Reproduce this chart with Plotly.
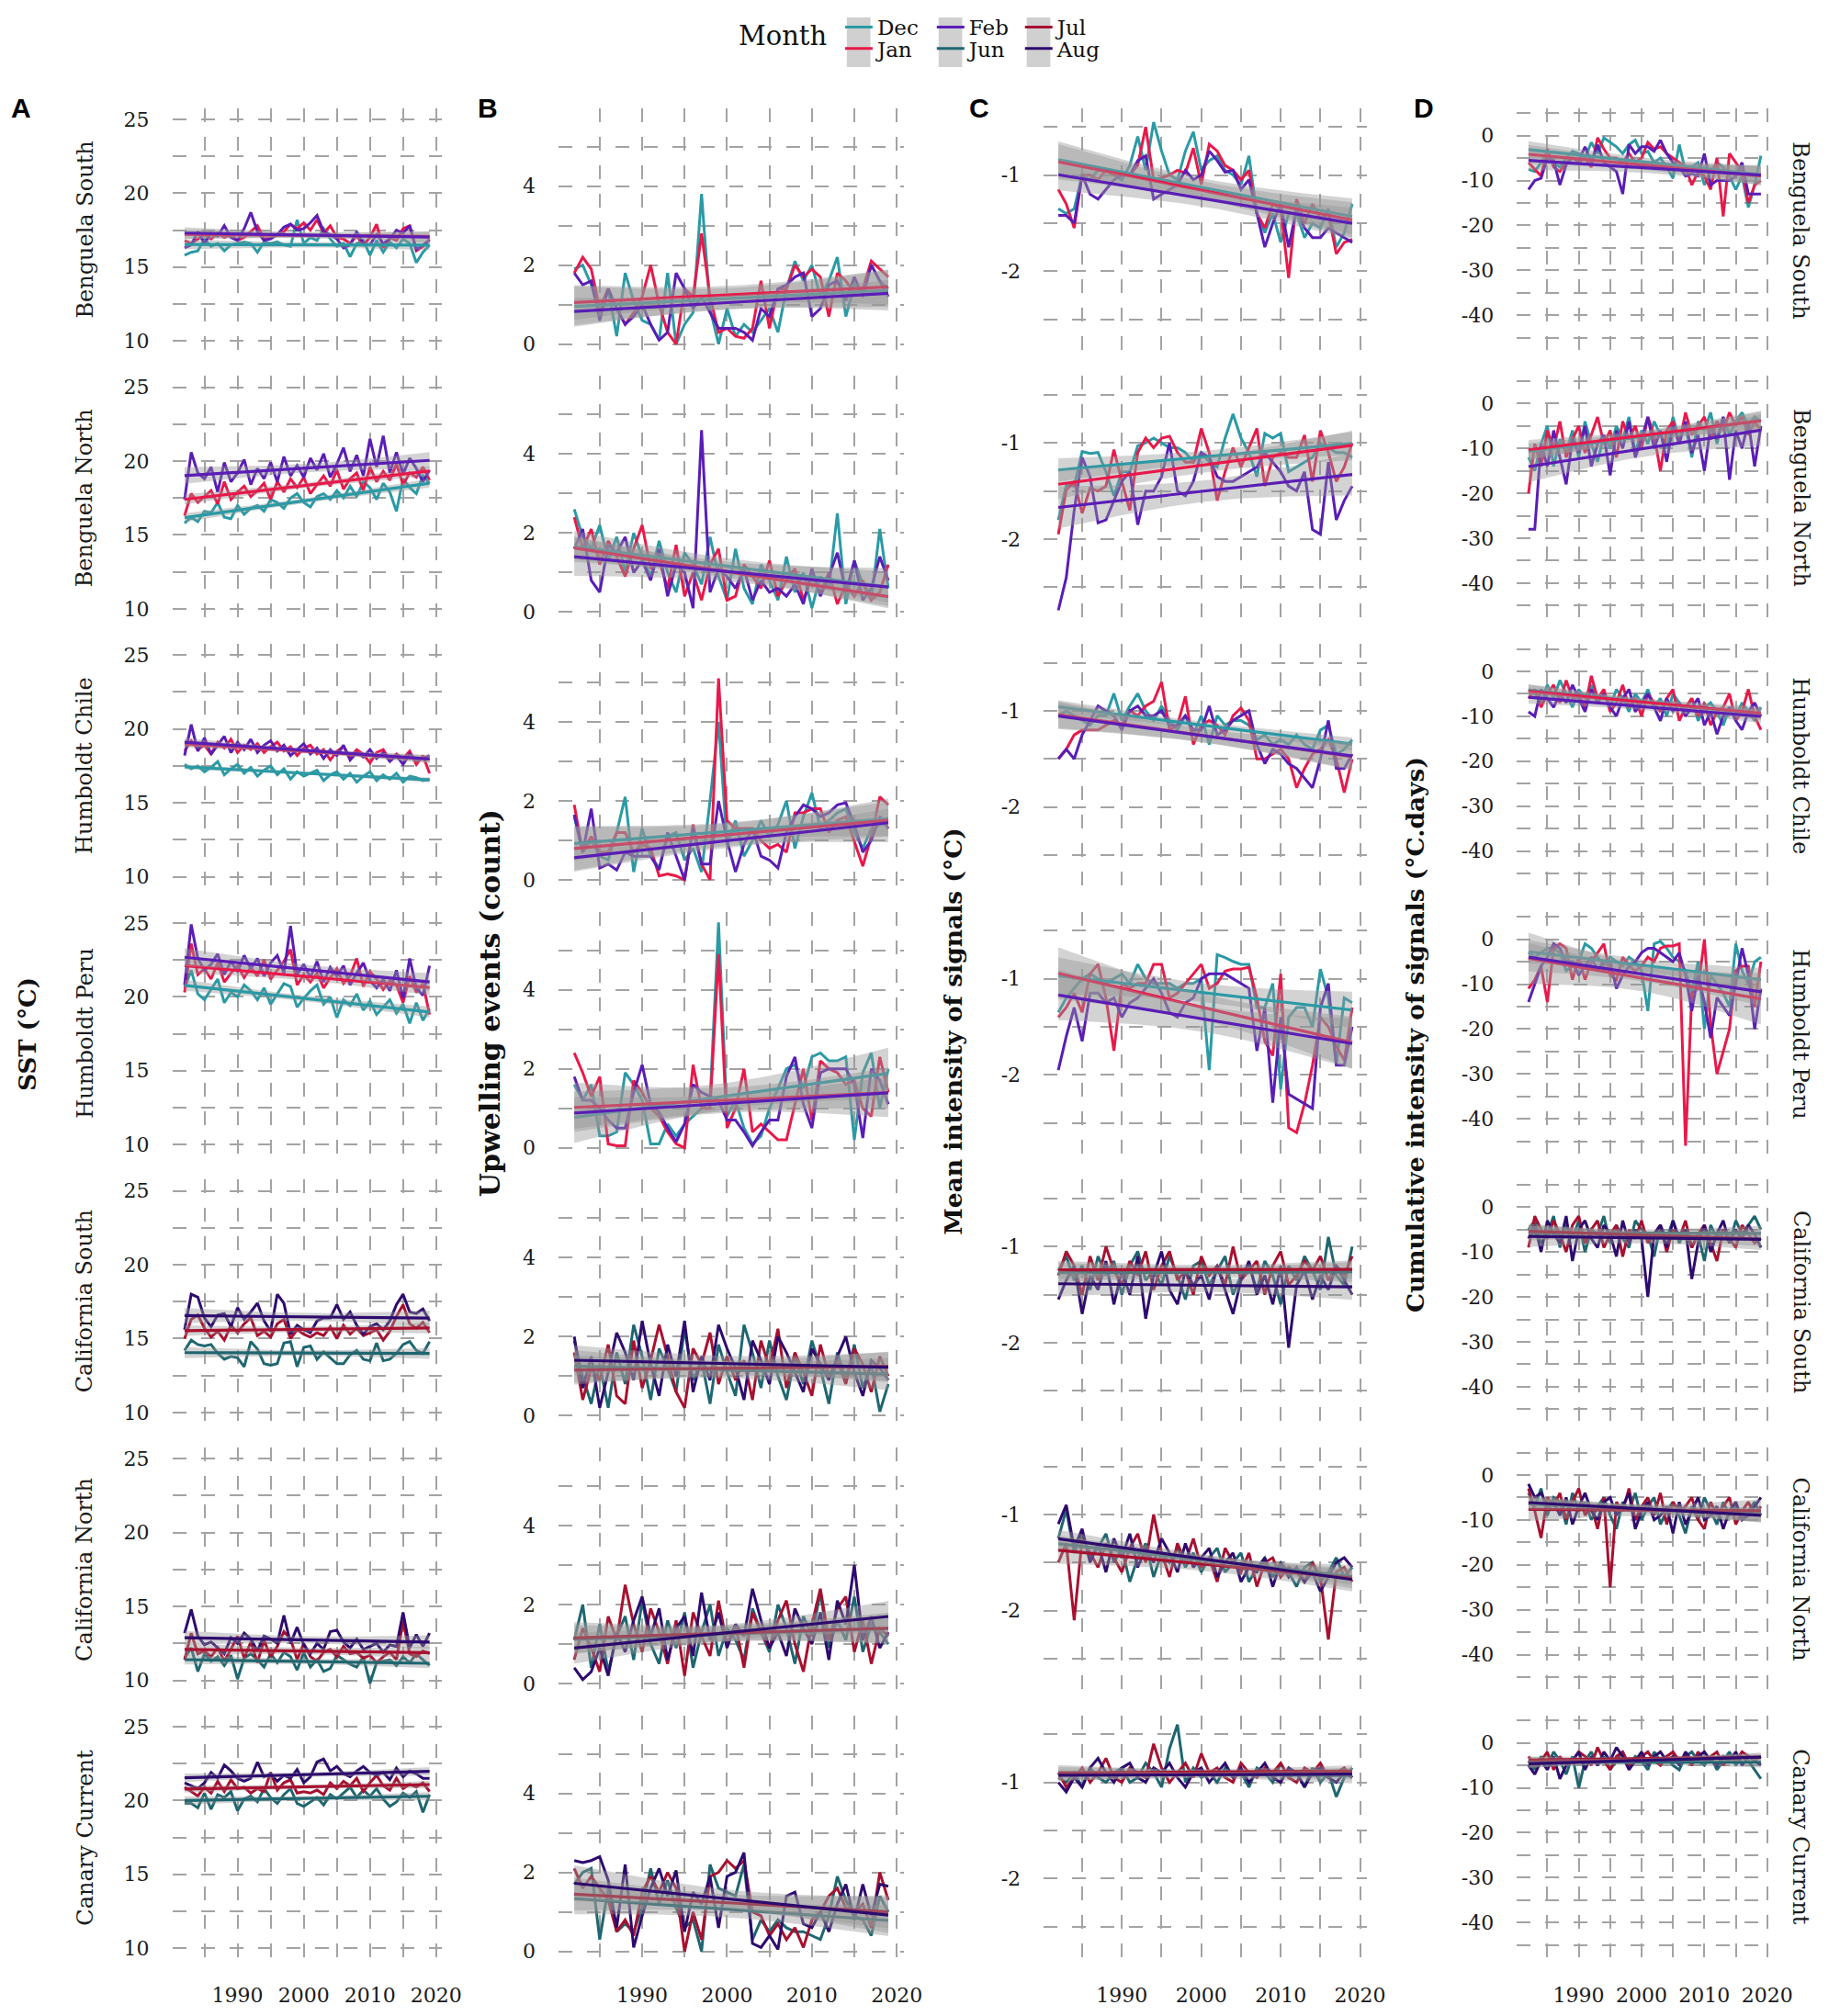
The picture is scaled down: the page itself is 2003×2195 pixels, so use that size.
import numpy as np
import plotly.graph_objects as go
from plotly.subplots import make_subplots

YEAR0 = 1982

regions = ["Benguela South", "Benguela North", "Humboldt Chile", "Humboldt Peru",
           "California South", "California North", "Canary Current"]
south_months = ["Dec", "Jan", "Feb"]
north_months = ["Jun", "Jul", "Aug"]

month_colors = {
    "Dec": "#2A9AA5", "Jan": "#E8194A", "Feb": "#5A1DB5",
    "Jun": "#1E6670", "Jul": "#A8102F", "Aug": "#2D0B6E",
}

# ---------------- SST (°C), 1982-2019 ----------------
sst_bs_dec = [15.8,16.0,16.1,16.9,16.4,16.6,16.1,16.5,16.6,16.7, 16.6,16.0,16.7,16.6,16.7,16.5,16.4,18.2,16.6,17.0, 16.8,17.6,16.9,16.4,16.6,15.7,16.6,16.8,15.8,16.8, 16.0,16.7,16.3,16.9,16.6,15.3,16.0,16.5]
sst_bs_jan = [16.8,16.6,16.9,17.2,16.9,17.3,17.0,17.2,16.8,17.0, 17.4,17.8,16.9,17.0,17.2,17.4,17.9,17.6,18.0,17.5, 18.2,17.3,17.8,17.0,16.9,16.6,17.1,16.5,17.0,17.9, 16.3,17.0,16.8,17.6,17.8,16.1,16.4,16.9]
sst_bs_feb = [16.3,16.5,17.4,16.6,17.3,17.1,17.8,17.0,16.8,17.6, 18.7,17.4,16.8,16.9,17.2,17.7,17.9,17.5,17.6,18.0, 18.5,17.4,17.2,16.9,16.3,16.5,17.4,16.6,16.5,17.2, 16.6,16.9,17.5,17.3,17.8,16.2,16.5,16.8]

sst_bn_dec = [15.8,16.2,15.9,16.6,16.5,17.2,16.2,16.1,17.0,16.4, 16.8,17.0,16.6,17.4,17.2,16.8,17.5,17.8,17.2,16.9, 17.6,17.8,17.4,18.0,17.5,18.3,17.6,18.6,18.2,17.4, 18.5,17.9,16.6,18.8,18.2,17.8,19.0,18.5]
sst_bn_jan = [16.3,17.8,17.2,17.6,18.0,17.1,18.6,17.4,17.9,18.3, 17.6,18.0,18.5,17.4,18.6,17.9,18.8,18.2,18.9,17.8, 18.4,19.0,18.3,19.4,18.1,18.8,19.2,18.0,19.6,18.6, 19.3,18.7,19.8,18.4,19.2,18.9,19.6,18.7]
sst_bn_feb = [17.4,20.6,19.2,18.8,19.6,17.9,19.9,18.6,19.2,20.1, 18.4,19.5,18.8,19.9,18.6,20.3,19.0,19.7,18.9,20.2, 19.4,20.5,18.9,19.8,20.9,19.3,20.4,19.0,21.5,19.6, 21.7,19.2,20.6,19.1,20.2,19.5,18.6,19.4]

sst_hc_dec = [17.6,17.3,17.5,17.1,17.4,17.8,16.9,17.3,17.6,17.0, 17.4,16.8,17.2,17.5,16.9,17.3,16.6,17.1,16.8,17.0, 17.2,16.5,16.9,17.1,16.6,17.0,16.4,16.8,17.1,16.5, 16.9,16.6,17.0,16.4,16.8,16.7,16.5,16.6]
sst_hc_jan = [18.5,19.2,18.6,18.9,18.3,19.1,18.7,19.3,18.4,18.9, 18.6,19.0,18.4,18.8,19.1,18.5,18.8,18.2,18.7,18.9, 18.3,18.6,17.9,18.5,18.8,18.1,18.6,18.3,17.7,18.4, 18.6,17.9,18.3,18.0,18.5,17.6,18.2,17.0]
sst_hc_feb = [18.2,20.3,18.5,19.4,18.3,18.9,19.5,18.4,19.1,18.6, 19.3,18.4,18.9,19.2,18.5,18.9,18.2,18.6,19.0,18.3, 18.7,18.0,18.6,18.2,18.9,17.9,18.4,18.1,18.6,18.0, 18.4,17.8,18.2,17.6,18.3,17.9,18.0,18.2]

sst_hp_dec = [20.6,21.8,20.2,19.8,20.5,21.2,19.6,20.3,20.0,20.8, 20.4,19.8,20.6,19.5,20.2,20.9,20.7,19.3,19.9,20.4, 20.8,19.5,20.0,18.6,19.8,19.4,20.2,19.1,19.7,18.8, 19.3,19.8,18.9,19.5,18.2,19.6,18.4,19.2]
sst_hp_jan = [20.3,23.6,21.5,21.9,21.2,22.3,21.0,21.6,22.1,21.3, 22.0,21.4,22.5,21.2,21.8,22.4,23.2,20.8,21.5,21.0, 21.6,20.6,21.3,21.9,20.9,21.4,22.6,20.7,21.7,21.2, 20.5,21.1,20.8,19.6,21.4,20.3,20.9,18.8]
sst_hp_feb = [20.8,24.9,22.6,21.8,22.2,22.9,21.5,22.4,21.7,22.8, 21.9,22.6,21.4,22.3,22.8,21.6,24.8,21.5,22.2,21.3, 22.4,21.0,22.0,21.4,22.1,20.8,21.6,22.3,21.1,20.6, 21.2,20.4,21.8,19.9,22.6,20.6,20.1,22.1]

sst_cs_jun = [14.2,14.9,14.6,14.5,14.6,14.0,13.6,13.8,13.7,13.1, 14.8,14.3,13.3,13.2,13.3,14.7,14.8,13.1,14.4,14.5, 13.6,14.1,13.7,13.3,13.3,13.9,14.2,13.6,13.5,14.7, 13.5,13.6,14.0,14.6,14.8,14.2,14.0,14.8]
sst_cs_jul = [15.0,16.3,16.6,15.7,15.1,15.5,14.9,15.9,15.4,16.0, 16.4,15.2,15.5,15.1,16.0,16.3,15.0,15.6,15.3,15.1, 15.4,15.2,15.8,15.0,15.9,15.3,15.7,15.2,15.4,15.6, 14.9,15.5,16.5,17.3,16.0,15.7,16.1,15.4]
sst_cs_aug = [15.6,18.0,17.8,16.4,15.8,16.6,16.7,15.8,17.1,16.3, 16.8,17.4,16.2,15.5,18.0,17.4,15.3,15.9,15.6,15.4, 16.2,16.4,16.4,17.3,16.3,16.8,15.9,15.3,15.8,16.0, 15.6,16.2,17.3,18.0,16.8,16.7,17.0,16.2]

sst_cn_jun = [11.5,12.2,10.6,11.8,11.3,11.6,11.0,11.7,10.1,11.5, 11.8,11.4,10.9,11.8,11.2,11.9,11.6,10.7,11.9,10.9, 11.4,10.6,10.8,11.7,11.4,11.1,10.9,11.6,9.8,11.2, 11.3,11.4,11.0,11.6,11.2,11.8,11.4,11.0]
sst_cn_jul = [11.4,13.2,11.8,12.0,11.6,12.2,11.3,12.1,13.0,11.5, 12.6,11.2,12.7,11.6,12.3,13.3,12.8,11.4,12.5,11.6, 11.3,11.9,12.1,11.6,12.3,11.8,11.9,11.5,11.7,11.2, 11.6,11.9,11.4,14.0,11.8,11.6,12.0,11.8]
sst_cn_aug = [13.2,14.8,13.0,12.4,12.6,12.2,11.8,12.9,12.5,13.2, 12.8,12.0,13.0,12.8,12.5,14.4,12.5,13.6,12.4,11.8, 12.5,12.1,13.3,13.4,12.6,12.2,12.8,12.1,12.3,12.5, 11.9,12.4,12.3,14.6,12.2,13.1,12.3,13.2]

sst_cc_jun = [19.8,19.8,19.5,20.5,19.4,20.4,20.2,20.6,19.3,20.1, 20.3,19.9,20.8,20.2,19.8,20.4,20.8,19.8,19.6,19.9, 20.2,19.7,20.4,20.1,20.5,20.9,20.2,20.7,20.3,20.8, 20.1,19.6,19.9,20.5,20.2,20.6,19.2,20.4]
sst_cc_jul = [20.9,20.6,20.3,20.9,20.5,21.3,20.6,21.4,20.8,20.9, 20.5,20.8,20.6,21.9,20.7,21.2,21.4,20.5,20.6,20.5, 20.7,20.4,21.2,20.8,21.3,21.0,21.5,20.6,21.2,21.7, 21.0,20.7,21.5,20.8,21.1,20.9,21.2,20.6]
sst_cc_aug = [21.2,21.0,20.8,21.2,21.9,21.5,22.4,22.0,21.5,21.3, 21.5,22.6,21.6,21.8,21.3,21.7,21.5,22.1,21.2,21.6, 22.6,22.8,22.0,22.3,21.8,21.6,22.0,22.3,21.9,21.7, 21.9,21.4,22.2,21.6,22.0,21.8,21.5,21.5]

# ---------------- Upwelling events (count) ----------------
up_bs_dec = [1.9,2.0,1.5,0.8,1.4,0.2,1.8,1.1,0.6,0.5, 0.1,1.8,0.0,0.5,0.8,3.8,0.9,0.0,0.9,0.2, 0.5,0.3,0.6,0.9,0.3,1.4,2.1,1.6,2.0,1.2, 1.6,2.2,0.7,1.5,1.3,2.0,1.6,1.4]
up_bs_jan = [1.8,2.2,1.9,0.9,1.4,0.9,0.5,0.8,1.2,2.0, 1.0,0.3,0.0,1.4,1.2,2.8,1.2,0.3,0.4,0.2, 0.15,0.4,1.6,0.4,1.4,1.4,2.0,1.7,1.9,1.7, 0.7,1.8,1.6,1.3,1.4,2.1,1.9,1.7]
up_bs_feb = [1.8,1.5,1.6,0.6,1.4,0.9,0.5,0.7,1.0,0.5, 0.1,0.3,1.8,1.4,0.9,1.2,0.8,0.4,0.4,0.4, 0.3,0.1,0.9,0.7,1.4,1.5,1.7,1.8,0.7,0.9, 1.5,1.6,1.1,1.7,1.2,2.0,1.6,1.2]

up_bn_dec = [2.6,1.9,1.6,2.2,1.3,1.9,1.0,2.0,1.4,0.9, 1.8,1.0,0.5,1.5,1.2,0.7,1.9,0.9,0.3,1.6, 0.6,0.2,1.2,0.8,0.3,1.4,0.5,1.0,0.1,0.9, 0.6,2.5,0.2,1.3,0.7,0.3,2.1,0.6]
up_bn_jan = [2.4,1.6,2.1,1.2,1.8,1.4,0.9,1.6,2.2,1.1, 1.3,0.6,1.7,0.4,1.0,0.3,1.2,1.6,0.3,0.4, 1.2,0.9,0.6,1.3,0.4,0.8,1.1,0.3,0.9,0.5, 1.0,0.2,0.7,0.4,0.8,0.3,0.5,1.2]
up_bn_feb = [1.6,2.1,0.8,0.5,1.7,1.5,1.9,1.0,1.3,0.8, 1.6,0.4,1.2,1.0,0.1,4.6,0.5,1.1,0.9,0.6, 1.1,0.3,0.8,0.5,0.6,0.4,0.7,0.2,1.1,0.4, 0.9,1.5,0.5,1.3,0.3,0.6,1.4,0.8]

up_hc_dec = [1.6,0.7,1.0,0.6,0.5,1.2,2.1,0.2,1.3,0.6, 0.3,1.1,1.2,0.5,0.8,0.2,2.0,4.0,0.9,1.5, 0.6,1.0,1.5,1.1,1.4,2.0,0.8,1.6,2.2,1.3, 1.5,1.7,1.8,1.2,0.8,1.3,1.4,1.4]
up_hc_jan = [1.9,0.7,1.1,0.7,0.7,1.2,1.2,0.7,0.9,0.8, 0.1,0.15,0.1,0.0,1.4,0.4,0.0,5.1,1.5,1.3, 1.3,1.3,1.0,0.8,0.9,0.7,1.7,1.7,1.8,1.8, 1.2,1.5,1.6,1.0,0.35,1.1,2.1,1.9]
up_hc_feb = [1.65,0.7,1.8,0.3,0.4,0.25,0.7,0.6,0.6,0.6, 0.25,1.2,0.6,0.0,1.3,0.4,0.4,2.0,1.0,0.2, 0.9,1.3,0.6,0.5,0.3,1.2,1.6,1.9,1.8,1.6, 1.7,1.9,1.95,1.4,0.7,1.0,1.6,1.3]

up_hp_dec = [1.6,1.2,1.6,0.3,0.3,0.4,1.9,1.6,1.2,0.1, 0.1,0.6,0.3,0.6,0.8,1.0,1.2,5.7,0.8,1.2, 0.5,0.1,0.3,1.0,1.5,2.0,2.1,1.5,2.3,2.4, 2.2,2.2,2.3,0.2,1.9,2.4,1.0,2.0]
up_hp_jan = [2.4,1.9,1.3,1.8,0.1,0.05,0.05,1.7,1.4,1.0, 0.8,0.4,0.1,0.0,2.1,1.0,1.0,4.9,0.5,1.0, 2.0,0.4,0.6,0.4,0.2,0.2,1.1,2.0,0.7,2.2, 2.0,1.9,1.6,1.7,1.0,0.8,2.3,1.4]
up_hp_feb = [1.8,1.2,1.2,1.0,0.7,0.5,0.5,1.4,2.1,1.1, 0.9,0.5,0.15,0.6,1.6,1.4,1.3,1.2,0.7,0.7, 0.4,0.05,0.4,0.7,0.7,1.8,2.3,1.1,0.5,1.9, 2.0,2.0,2.0,1.6,0.25,2.0,1.7,1.1]

up_cs_jun = [1.9,1.0,0.3,1.3,0.2,1.6,0.8,2.3,1.5,0.4, 1.7,1.2,0.6,2.2,0.9,1.4,0.3,1.8,1.1,0.5, 2.3,1.6,0.7,1.9,1.0,0.4,1.5,0.8,1.9,1.2, 0.3,1.6,0.9,1.8,0.7,1.3,0.1,0.8]
up_cs_jul = [1.6,0.4,1.2,0.9,1.8,0.5,0.3,1.9,0.7,1.4, 2.3,1.5,0.6,0.2,1.7,1.3,2.1,0.8,1.5,0.9, 1.4,0.4,1.9,1.2,2.2,0.7,1.6,1.1,0.5,1.8, 1.0,1.4,0.8,1.7,1.3,0.6,1.5,1.0]
up_cs_aug = [2.0,0.7,1.5,0.2,1.1,2.1,1.6,0.9,2.4,1.3, 0.5,1.8,1.0,2.4,0.6,1.5,0.9,2.3,1.7,1.2, 0.4,1.9,1.4,0.8,2.0,1.6,1.1,0.6,1.7,1.3, 0.9,1.5,2.0,1.1,0.5,1.4,1.2,0.9]

up_cn_jun = [1.1,2.0,0.4,1.5,0.3,1.2,1.7,0.6,2.1,1.0, 0.5,1.6,0.9,1.8,0.4,1.3,2.0,0.7,1.4,1.1, 0.6,1.9,1.3,0.8,2.0,1.4,0.5,1.7,1.2,2.3, 0.9,1.6,1.1,2.2,0.8,1.5,1.3,1.0]
up_cn_jul = [0.6,1.4,0.9,0.3,1.7,1.1,2.5,1.5,0.8,1.9, 1.3,0.5,1.6,0.2,1.8,1.2,0.7,2.1,1.0,1.5, 0.4,1.8,1.3,0.9,1.6,2.1,1.0,0.3,1.5,2.4, 1.1,1.9,2.2,0.8,1.6,0.5,1.4,1.2]
up_cn_aug = [0.4,0.1,0.3,0.9,0.2,1.3,0.8,1.6,2.2,1.2, 1.9,0.6,1.4,1.7,0.7,2.3,1.1,1.8,0.9,1.5, 1.2,2.4,1.6,0.9,1.3,0.7,1.9,1.4,1.0,1.8, 0.6,2.1,1.5,3.0,1.1,1.7,0.9,1.3]

up_cc_jun = [1.7,2.0,2.1,0.3,1.6,0.5,0.7,0.5,1.1,2.1, 1.2,1.8,1.1,0.6,0.8,0.0,2.2,1.6,1.5,1.4, 2.2,0.3,0.8,0.5,0.8,0.6,0.5,0.5,0.4,0.3, 0.9,1.9,1.3,0.9,0.8,0.4,1.4,1.0]
up_cc_jul = [2.1,1.6,1.9,1.6,1.3,0.5,0.8,0.4,1.5,1.9, 1.5,2.0,1.6,0.0,1.0,0.3,1.9,2.0,2.3,2.1, 2.3,1.0,0.9,0.4,0.7,0.3,0.6,0.1,0.8,1.0, 1.4,1.6,1.1,1.0,1.2,0.6,2.0,1.3]
up_cc_aug = [2.3,2.25,2.3,2.4,1.8,0.6,2.2,0.1,0.9,1.6, 2.1,1.4,2.05,0.5,1.5,1.2,1.9,0.6,1.9,2.0, 2.5,0.2,0.1,0.4,0.05,1.4,1.5,0.7,0.6,1.0, 0.5,1.2,1.7,0.8,1.7,0.9,1.7,1.65]

# ---------------- Mean intensity of signals (°C) ----------------
mi_bs_dec = [-1.35,-1.4,-1.35,-1.0,-1.05,-0.95,-0.95,-1.0,-1.05,-0.9, -0.6,-0.95,-0.45,-0.75,-1.0,-1.05,-0.75,-0.55,-0.95,-0.85, -0.8,-0.95,-1.0,-1.1,-0.8,-1.4,-1.6,-1.4,-1.7,-1.4, -1.4,-1.65,-1.5,-1.55,-1.35,-1.75,-1.6,-1.3]
mi_bs_jan = [-1.15,-1.3,-1.55,-1.0,-1.0,-1.05,-0.95,-1.0,-1.0,-1.0, -0.9,-0.5,-1.05,-1.03,-1.0,-0.95,-0.98,-0.72,-1.1,-0.68, -0.75,-0.9,-0.95,-1.05,-0.95,-1.4,-1.55,-1.3,-1.35,-2.07, -1.25,-1.5,-1.3,-1.45,-1.4,-1.82,-1.7,-1.67]
mi_bs_feb = [-1.42,-1.42,-1.5,-1.0,-1.2,-1.25,-1.15,-1.05,-1.0,-1.0, -0.85,-0.8,-1.25,-1.2,-1.15,-1.1,-0.95,-1.05,-1.0,-0.75, -0.85,-0.97,-0.95,-1.15,-1.05,-1.4,-1.75,-1.5,-1.3,-1.75, -1.35,-1.55,-1.65,-1.65,-1.55,-1.6,-1.65,-1.7]

mi_bn_dec = [-1.8,-1.44,-1.45,-1.09,-1.11,-1.1,-1.3,-1.55,-1.3,-1.3, -1.03,-1.0,-0.95,-1.0,-1.05,-1.05,-1.1,-1.2,-1.1,-1.2, -1.25,-0.95,-0.7,-0.95,-1.1,-1.35,-0.9,-0.95,-0.9,-1.3, -1.25,-1.2,-1.15,-1.0,-1.05,-1.1,-1.1,-1.15]
mi_bn_jan = [-1.95,-1.49,-1.4,-1.73,-1.47,-1.5,-1.45,-1.07,-1.4,-1.7, -1.1,-0.95,-1.05,-0.95,-0.93,-1.1,-1.2,-1.2,-0.85,-1.1, -1.6,-1.3,-1.05,-1.25,-1.05,-0.85,-1.45,-1.15,-1.1,-1.15, -1.15,-0.92,-1.4,-0.87,-1.1,-1.4,-1.25,-1.0]
mi_bn_feb = [-2.74,-2.4,-1.7,-1.15,-1.35,-1.83,-1.8,-1.6,-1.4,-1.3, -1.85,-1.5,-1.5,-1.35,-1.0,-1.5,-1.55,-1.4,-1.1,-1.15, -1.35,-1.4,-1.4,-1.35,-1.3,-1.25,-1.1,-1.2,-1.3,-1.45, -1.5,-1.3,-1.9,-1.95,-1.2,-1.8,-1.6,-1.45]

mi_hc_dec = [-1.05,-1.0,-1.05,-1.1,-1.15,-1.05,-1.05,-0.82,-1.1,-0.95, -0.82,-1.0,-1.1,-0.95,-1.1,-1.2,-1.05,-1.25,-1.05,-1.35, -1.05,-1.15,-1.1,-1.1,-1.15,-1.3,-1.25,-1.35,-1.3,-1.35, -1.25,-1.35,-1.4,-1.2,-1.15,-1.45,-1.4,-1.3]
mi_hc_jan = [-1.5,-1.4,-1.25,-1.2,-1.2,-1.2,-1.15,-1.1,-1.15,-1.0, -1.05,-0.95,-0.9,-0.7,-1.2,-1.15,-0.85,-1.35,-1.15,-1.1, -1.15,-1.25,-1.05,-0.97,-1.1,-1.5,-1.5,-1.45,-1.4,-1.5, -1.8,-1.6,-1.45,-1.4,-1.3,-1.5,-1.85,-1.5]
mi_hc_feb = [-1.5,-1.4,-1.5,-1.25,-1.1,-0.95,-1.0,-1.05,-1.2,-1.0, -0.95,-1.05,-1.05,-1.0,-1.15,-1.15,-1.05,-1.2,-1.2,-0.95, -1.25,-1.2,-1.1,-1.05,-1.0,-1.35,-1.55,-1.4,-1.45,-1.55, -1.6,-1.7,-1.8,-1.5,-1.1,-1.6,-1.6,-1.45]

mi_hp_dec = [-1.35,-1.2,-1.1,-1.0,-0.95,-1.0,-1.05,-1.0,-0.95,-1.05, -0.85,-1.0,-1.05,-1.05,-1.05,-1.1,-1.05,-1.05,-1.0,-1.95, -0.75,-0.78,-0.82,-0.85,-0.85,-1.3,-1.3,-1.05,-2.15,-1.4, -1.3,-1.3,-1.5,-0.9,-1.2,-1.9,-1.2,-1.25]
mi_hp_jan = [-1.4,-1.3,-1.15,-1.35,-0.95,-0.85,-1.2,-1.75,-1.05,-1.1, -1.05,-1.05,-0.85,-0.85,-1.2,-1.15,-1.05,-0.95,-0.85,-1.1, -1.05,-0.92,-0.9,-0.9,-0.88,-1.2,-1.65,-1.8,-0.95,-2.55, -2.6,-2.3,-1.9,-1.4,-1.5,-1.7,-1.85,-1.3]
mi_hp_feb = [-1.95,-1.6,-1.3,-1.65,-1.15,-1.15,-1.25,-1.2,-1.4,-1.25, -1.2,-1.1,-1.0,-1.15,-1.35,-1.4,-1.25,-1.2,-1.0,-0.95, -0.95,-0.95,-1.0,-1.05,-1.1,-1.75,-1.3,-2.29,-1.4,-2.2, -2.25,-2.3,-2.35,-1.3,-1.05,-1.9,-1.9,-1.5]

mi_cs_jun = [-1.25,-1.1,-1.35,-1.2,-1.45,-1.1,-1.3,-1.15,-1.5,-1.2, -1.05,-1.35,-1.25,-1.4,-1.1,-1.3,-1.55,-1.2,-1.15,-1.4, -1.25,-1.1,-1.5,-1.3,-1.2,-1.45,-1.15,-1.3,-1.6,-1.2, -1.35,-1.1,-1.25,-1.45,-0.9,-1.3,-1.4,-1.0]
mi_cs_jul = [-1.3,-1.05,-1.2,-1.5,-1.1,-1.35,-1.0,-1.25,-1.4,-1.15, -1.3,-1.05,-1.45,-1.2,-1.05,-1.35,-1.25,-1.5,-1.1,-1.3, -1.2,-1.4,-1.0,-1.35,-1.25,-1.15,-1.5,-1.2,-1.05,-1.4, -1.3,-1.15,-1.25,-1.1,-1.35,-1.2,-1.3,-1.1]
mi_cs_aug = [-1.55,-1.35,-1.2,-1.7,-1.3,-1.45,-1.15,-1.6,-1.25,-1.5, -1.1,-1.75,-1.3,-1.05,-1.45,-1.6,-1.25,-1.4,-1.3,-1.55, -1.2,-1.45,-1.7,-1.35,-1.15,-1.5,-1.3,-1.6,-1.2,-2.05, -1.4,-1.25,-1.55,-1.3,-1.45,-1.2,-1.35,-1.5]

mi_cn_jun = [-1.25,-0.95,-1.4,-1.2,-1.45,-1.35,-1.2,-1.5,-1.35,-1.7, -1.45,-1.3,-1.65,-1.4,-1.5,-1.35,-1.55,-1.4,-1.6,-1.45, -1.35,-1.6,-1.5,-1.4,-1.7,-1.55,-1.45,-1.65,-1.5,-1.6, -1.75,-1.55,-1.5,-1.7,-1.6,-1.45,-1.65,-1.55]
mi_cn_jul = [-1.5,-1.3,-2.1,-1.25,-1.4,-1.55,-1.3,-1.45,-1.6,-1.35, -1.2,-1.5,-1.0,-1.4,-1.65,-1.3,-1.5,-1.25,-1.55,-1.45, -1.7,-1.35,-1.5,-1.6,-1.4,-1.75,-1.5,-1.45,-1.65,-1.55, -1.6,-1.7,-1.5,-1.65,-2.3,-1.6,-1.55,-1.7]
mi_cn_aug = [-1.1,-0.9,-1.35,-1.15,-1.5,-1.3,-1.6,-1.25,-1.45,-1.2, -1.55,-1.35,-1.5,-1.25,-1.4,-1.6,-1.3,-1.55,-1.45,-1.35, -1.65,-1.5,-1.4,-1.7,-1.55,-1.6,-1.45,-1.75,-1.5,-1.65, -1.55,-1.7,-1.6,-1.8,-1.65,-1.5,-1.45,-1.55]

mi_cc_jun = [-0.95,-1.0,-0.9,-1.05,-0.85,-0.95,-1.0,-0.9,-0.85,-1.0, -0.95,-0.8,-0.9,-1.05,-0.65,-0.4,-1.0,-0.85,-0.95,-0.9, -1.0,-0.85,-0.95,-0.9,-1.05,-0.85,-0.9,-1.0,-0.8,-0.95, -0.9,-1.05,-0.85,-1.0,-0.9,-1.15,-0.95,-0.85]
mi_cc_jul = [-0.9,-1.05,-0.95,-0.85,-1.0,-0.9,-0.75,-0.95,-1.0,-0.85, -0.9,-0.95,-0.6,-0.85,-1.0,-0.9,-0.8,-0.95,-0.7,-0.9, -0.85,-0.95,-1.0,-0.8,-0.9,-0.95,-0.85,-0.9,-0.8,-0.95, -1.0,-0.85,-0.9,-0.8,-0.95,-0.9,-0.85,-0.95]
mi_cc_aug = [-1.0,-1.1,-0.95,-1.05,-0.85,-0.75,-0.9,-1.0,-0.85,-0.8, -0.95,-1.0,-0.85,-0.9,-0.8,-0.95,-1.05,-0.9,-0.85,-1.0, -0.9,-0.8,-0.95,-0.85,-1.0,-0.9,-0.8,-0.95,-1.0,-0.85, -0.9,-1.05,-0.9,-0.85,-0.95,-1.0,-0.9,-0.95]

# ---------------- Cumulative intensity of signals (°C.days) ----------------
ci_bs_dec = [-7.5,-8,-6,-3.5,-6,-7,-5,-3.5,-4,-5, -1.5,-4,-0.5,-1.5,-2.5,-4,-2,-1,-4,-3.5, -6,-5,-7,-9.5,-2,-8,-7,-6,-11,-8, -6,-7,-9,-12,-9,-16,-11,-4.5]
ci_bs_jan = [-6,-7.5,-9,-3,-7,-8,-6,-5,-6,-5, -7,-0.5,-3,-5,-5,-6,-4,-6,-5,-1.5, -3,-2.5,-4,-5,-6,-7,-11,-8,-9,-12, -5,-18,-4,-6,-8,-15,-11,-10]
ci_bs_feb = [-12,-10,-9.5,-5,-5.5,-11,-6.5,-5,-5.5,-2.5, -6,-2,-6,-7,-8,-13,-2,-4,-2.5,-2.5, -3.5,-1,-4,-6,-7,-9,-8.5,-9,-4,-11, -10,-10,-10,-9,-6,-13,-13,-13]

ci_bn_dec = [-12,-15,-9,-5,-14,-8,-11,-6,-12,-4, -9,-13,-7,-10,-5,-8,-3,-11,-6,-9, -4,-7,-10,-3,-8,-5,-12,-4,-6,-2, -9,-3,-7,-4,-2,-5,-3,-4]
ci_bn_jan = [-20,-9,-14,-6,-10,-4,-12,-8,-5,-11, -7,-3,-9,-6,-12,-4,-8,-5,-10,-3, -7,-15,-6,-4,-9,-2,-7,-5,-3,-8, -4,-6,-2,-5,-3,-7,-4,-6]
ci_bn_feb = [-28,-28,-9,-14,-6,-12,-18,-8,-11,-5, -14,-9,-7,-16,-6,-10,-4,-12,-8,-3, -10,-6,-13,-5,-9,-4,-11,-7,-15,-5, -8,-3,-17,-6,-10,-4,-14,-5]

ci_hc_dec = [-4,-5,-7,-3,-6,-2,-5,-8,-4,-6, -3,-7,-5,-8,-4,-6,-9,-5,-7,-4, -8,-6,-10,-5,-7,-9,-6,-11,-8,-7, -9,-12,-8,-10,-7,-9,-11,-8]
ci_hc_jan = [-6,-4,-8,-5,-3,-7,-2,-6,-5,-8, -1,-6,-4,-9,-7,-3,-8,-6,-10,-5, -7,-9,-6,-4,-11,-8,-6,-10,-7,-12, -9,-8,-5,-11,-9,-4,-10,-13]
ci_hc_feb = [-9,-10,-4,-6,-8,-5,-7,-3,-6,-9, -4,-7,-5,-8,-10,-6,-4,-9,-7,-5, -8,-11,-6,-9,-7,-10,-8,-6,-12,-9, -14,-10,-8,-11,-13,-9,-7,-10]

ci_hp_dec = [-3,-4,-3,-2,-2,-3,-7,-6,-5,-1, -2,-4,-6,-4,-5,-6,-4,-5,-7,-16, -1,-0.5,-2,-4,-5,-7,-12,-5,-20,-8, -10,-12,-15,-1,-7,-10,-5,-4]
ci_hp_jan = [-11,-9,-6,-14,-2,-1,-2,-9,-4,-9, -5,-3,-1,-8,-9,-4,-6,-7,-6,-4, -5,-2,-1.5,-1.5,-1,-46,-12,-11,0,-19, -30,-25,-20,-7,-6,-6,-15,-5]
ci_hp_feb = [-14,-10,-6,-4,-1,-2,-5,-5,-8,-6, -4,-7,-5,-5,-11,-8,-6,-5,-3,-2, -2,-3,-4,-5,-3,-8,-16,-8,-14,-22, -13,-15,-17,-10,-2,-8,-20,-11]

ci_cs_jun = [-5,-3,-8,-6,-2,-9,-4,-7,-3,-10, -5,-6,-2,-8,-4,-7,-9,-3,-5,-6, -11,-4,-7,-3,-8,-5,-9,-6,-12,-4, -7,-5,-8,-3,-6,-4,-2,-5]
ci_cs_jul = [-9,-2,-5,-7,-3,-6,-10,-4,-2,-8, -5,-3,-9,-6,-4,-11,-5,-7,-3,-8, -6,-4,-10,-5,-7,-3,-9,-6,-4,-8, -12,-5,-7,-9,-4,-6,-8,-7]
ci_cs_aug = [-7,-4,-10,-3,-6,-8,-2,-12,-5,-3, -7,-9,-4,-6,-11,-3,-8,-5,-7,-20, -6,-4,-9,-3,-7,-5,-16,-8,-4,-10, -6,-3,-8,-5,-7,-4,-6,-9]

ci_cn_jun = [-4,-7,-3,-9,-5,-6,-11,-4,-8,-6, -10,-7,-5,-9,-12,-6,-8,-4,-10,-7, -5,-11,-8,-6,-9,-13,-7,-10,-5,-8, -11,-6,-9,-7,-10,-8,-6,-9]
ci_cn_jul = [-3,-8,-14,-5,-7,-4,-10,-6,-3,-9, -7,-12,-5,-25,-6,-8,-3,-10,-7,-5, -9,-4,-11,-6,-8,-7,-5,-10,-12,-6, -9,-7,-5,-11,-8,-6,-9,-7]
ci_cn_aug = [-2,-5,-4,-7,-6,-9,-5,-11,-7,-4, -8,-10,-6,-5,-9,-7,-4,-12,-8,-6, -10,-9,-7,-13,-6,-11,-8,-5,-10,-9, -7,-12,-8,-6,-10,-9,-7,-5]

ci_cc_jun = [-4,-6,-3,-5,-2,-4,-7,-3,-10,-4, -2,-5,-3,-6,-4,-2,-5,-3,-4,-6, -2,-4,-3,-5,-6,-3,-2,-4,-5,-3, -6,-4,-2,-5,-3,-4,-6,-8]
ci_cc_jul = [-3,-5,-4,-2,-6,-3,-5,-4,-2,-3, -5,-1,-4,-6,-3,-2,-5,-4,-3,-2, -4,-5,-3,-2,-4,-3,-5,-2,-4,-3, -2,-5,-3,-4,-2,-3,-4,-3]
ci_cc_aug = [-5,-7,-4,-6,-3,-8,-5,-4,-2,-6, -3,-5,-2,-4,-1,-3,-6,-4,-2,-5, -3,-2,-4,-3,-5,-2,-4,-3,-2,-4, -5,-3,-4,-2,-5,-3,-4,-5]

# one table per column: region -> the three monthly series
sst = [[sst_bs_dec, sst_bs_jan, sst_bs_feb], [sst_bn_dec, sst_bn_jan, sst_bn_feb],
       [sst_hc_dec, sst_hc_jan, sst_hc_feb], [sst_hp_dec, sst_hp_jan, sst_hp_feb],
       [sst_cs_jun, sst_cs_jul, sst_cs_aug], [sst_cn_jun, sst_cn_jul, sst_cn_aug],
       [sst_cc_jun, sst_cc_jul, sst_cc_aug]]
upwelling = [[up_bs_dec, up_bs_jan, up_bs_feb], [up_bn_dec, up_bn_jan, up_bn_feb],
             [up_hc_dec, up_hc_jan, up_hc_feb], [up_hp_dec, up_hp_jan, up_hp_feb],
             [up_cs_jun, up_cs_jul, up_cs_aug], [up_cn_jun, up_cn_jul, up_cn_aug],
             [up_cc_jun, up_cc_jul, up_cc_aug]]
mean_int = [[mi_bs_dec, mi_bs_jan, mi_bs_feb], [mi_bn_dec, mi_bn_jan, mi_bn_feb],
            [mi_hc_dec, mi_hc_jan, mi_hc_feb], [mi_hp_dec, mi_hp_jan, mi_hp_feb],
            [mi_cs_jun, mi_cs_jul, mi_cs_aug], [mi_cn_jun, mi_cn_jul, mi_cn_aug],
            [mi_cc_jun, mi_cc_jul, mi_cc_aug]]
cum_int = [[ci_bs_dec, ci_bs_jan, ci_bs_feb], [ci_bn_dec, ci_bn_jan, ci_bn_feb],
           [ci_hc_dec, ci_hc_jan, ci_hc_feb], [ci_hp_dec, ci_hp_jan, ci_hp_feb],
           [ci_cs_jun, ci_cs_jul, ci_cs_aug], [ci_cn_jun, ci_cn_jul, ci_cn_aug],
           [ci_cc_jun, ci_cc_jul, ci_cc_aug]]

# y axis setup per column: range, grid positions, labels
y_ranges = [[9.25, 25.75], [-0.2, 5.97], [-2.84, -0.305], [-48.2, 6.1]]
y_ticks = [[10, 12.5, 15, 17.5, 20, 22.5, 25],
           [0, 1, 2, 3, 4, 5],
           [-2.5, -2, -1.5, -1, -0.5],
           [-45, -40, -35, -30, -25, -20, -15, -10, -5, 0, 5]]
y_labels = [["10", "", "15", "", "20", "", "25"],
            ["0", "", "2", "", "4", ""],
            ["", "-2", "", "-1", ""],
            ["", "-40", "", "-30", "", "-20", "", "-10", "", "0", ""]]
x_ticks = [1985, 1990, 1995, 2000, 2005, 2010, 2015, 2020]
x_labels = ["", "1990", "", "2000", "", "2010", "", "2020"]

col_titles = ["SST (°C)", "Upwelling events (count)",
              "Mean intensity of signals (°C)", "Cumulative intensity of signals (°C.days)"]
panel_letters = ["A", "B", "C", "D"]

# legend grid: Dec/Jan, Feb/Jun, Jul/Aug (column-major, two rows)
legend_order = ["Dec", "Jan", "Feb", "Jun", "Jul", "Aug"]
legend_of = {m: ("legend" if i == 0 else "legend%d" % (i + 1))
             for i, m in enumerate(legend_order)}

W, H = 2003, 2195
SERIF = "DejaVu Serif"
GRID = "#A3A3A3"
BAND = "rgba(150,150,150,0.42)"

x_dom_px = [(181.6, 478.2), (606.7, 986.9), (1140.6, 1496.4), (1661.5, 1942.9)]
row_top0, row_step, row_h = 110, 292.2, 266


def lm_band(x, y, xs, t=2.028):
    """Linear fit with a 95% confidence band for the mean (like geom_smooth)."""
    n = len(x)
    slope, icpt = np.polyfit(x, y, 1)
    fit = icpt + slope * xs
    resid = y - (icpt + slope * x)
    s = np.sqrt(np.sum(resid ** 2) / (n - 2))
    sxx = np.sum((x - x.mean()) ** 2)
    se = s * np.sqrt(1 / n + (xs - x.mean()) ** 2 / sxx)
    return fit, fit - t * se, fit + t * se


fig = make_subplots(rows=7, cols=4)
seen = set()

for c, table in enumerate([sst, upwelling, mean_int, cum_int]):
    for r, region in enumerate(regions):
        months = south_months if r < 4 else north_months
        series = table[r]
        for m, vals in zip(months, series):
            yrs = np.arange(YEAR0, YEAR0 + len(vals))
            first = m not in seen
            seen.add(m)
            fig.add_trace(go.Scatter(
                x=yrs, y=vals, mode="lines", name=m,
                line=dict(color=month_colors[m], width=3),
                showlegend=first, legend=legend_of[m], legendgroup=m,
                hoverinfo="skip"), row=r + 1, col=c + 1)
        for m, vals in zip(months, series):
            yrs = np.arange(YEAR0, YEAR0 + len(vals), dtype=float)
            yv = np.asarray(vals, dtype=float)
            xs = np.linspace(yrs[0], yrs[-1], 80)
            fit, lo, hi = lm_band(yrs, yv, xs)
            fig.add_trace(go.Scatter(
                x=np.concatenate([xs, xs[::-1]]), y=np.concatenate([hi, lo[::-1]]),
                fill="toself", fillcolor=BAND, line=dict(width=0), mode="lines",
                showlegend=False, hoverinfo="skip"), row=r + 1, col=c + 1)
            fig.add_trace(go.Scatter(
                x=xs, y=fit, mode="lines", line=dict(color=month_colors[m], width=3.2),
                showlegend=False, hoverinfo="skip"), row=r + 1, col=c + 1)

        top = row_top0 + row_step * r
        ydom = [1 - (top + row_h) / H, 1 - top / H]
        xdom = [x_dom_px[c][0] / W, x_dom_px[c][1] / W]
        fig.update_xaxes(
            domain=xdom, range=[1980.15, 2020.85], tickmode="array",
            tickvals=x_ticks, ticktext=x_labels, showticklabels=(r == 6),
            showgrid=True, gridcolor=GRID, gridwidth=1.6, griddash="15px,16px",
            zeroline=False, showline=False, ticks="", ticklabelstandoff=24,
            tickfont=dict(family=SERIF, size=22, color="#1a1a1a"),
            row=r + 1, col=c + 1)
        fig.update_yaxes(
            domain=ydom, range=y_ranges[c], tickmode="array",
            tickvals=y_ticks[c], ticktext=y_labels[c],
            showgrid=True, gridcolor=GRID, gridwidth=1.6, griddash="15px,16px",
            zeroline=False, showline=False, ticks="", ticklabelstandoff=24,
            tickfont=dict(family=SERIF, size=22, color="#1a1a1a"),
            row=r + 1, col=c + 1)

annotations = []
# region labels: left of column A, right of column D
for r, region in enumerate(regions):
    yc = 1 - (row_top0 + row_step * r + row_h / 2) / H
    annotations.append(dict(text=region, x=85 / W, y=yc, xref="paper", yref="paper",
                            xanchor="center", yanchor="middle",
                            textangle=-90, showarrow=False,
                            font=dict(family=SERIF, size=24, color="#1a1a1a")))
    annotations.append(dict(text=region, x=1974 / W, y=yc, xref="paper", yref="paper",
                            xanchor="center", yanchor="middle",
                            textangle=90, showarrow=False,
                            font=dict(family=SERIF, size=24, color="#1a1a1a")))

title_x = [22, 531, 1041, 1550]
title_y = [1120, 1086, 1117, 1120]
title_size = [26, 30, 26.5, 26.5]
for c in range(4):
    annotations.append(dict(text="<b>%s</b>" % col_titles[c], x=title_x[c] / W,
                            y=1 - title_y[c] / H, xref="paper", yref="paper",
                            xanchor="center", yanchor="middle",
                            textangle=-90, showarrow=False,
                            font=dict(family=SERIF, size=title_size[c], color="#111")))

letter_x = [15, 529, 1070, 1559]
for c in range(4):
    annotations.append(dict(text="<b>%s</b>" % panel_letters[c], x=letter_x[c] / W,
                            y=1 - 110 / H, xref="paper", yref="paper", showarrow=False,
                            xanchor="center", yanchor="middle",
                            font=dict(family="Liberation Sans", size=30, color="#000")))

annotations.append(dict(text="Month", x=853 / W, y=1 - 31 / H, xref="paper", yref="paper",
                        xanchor="center", yanchor="middle",
                        showarrow=False, font=dict(family=SERIF, size=29, color="#111")))

# legend positions: left edge of each item column; first row hangs from the top edge,
# second row is centred at the given pixel offset
legend_left = [917, 1018, 1115]
legend_row2_y = 45

# grey key backgrounds behind the legend symbols
shapes = []
for lx in legend_left:
    shapes.append(dict(type="rect", xref="paper", yref="paper",
                       x0=(lx + 7) / W, x1=(lx + 33) / W,
                       y0=1 - 65 / H, y1=1 - 11 / H,
                       fillcolor="#D0D0D0", line=dict(width=0), layer="below"))

leg_common = dict(xanchor="left", orientation="v",
                  bgcolor="rgba(0,0,0,0)", itemwidth=30, tracegroupgap=0,
                  font=dict(family=SERIF, size=23, color="#111"))
legends = {}
for i, m in enumerate(legend_order):
    key = legend_of[m]
    if i % 2 == 0:
        pos = dict(y=1.0, yanchor="top")
    else:
        pos = dict(y=1 - legend_row2_y / H, yanchor="middle")
    legends[key] = dict(x=legend_left[i // 2] / W, **pos, **leg_common)

fig.update_layout(
    width=W, height=H, margin=dict(l=0, r=0, t=0, b=0),
    paper_bgcolor="white", plot_bgcolor="white",
    annotations=annotations, shapes=shapes, **legends,
)

fig.write_html("out.html")
